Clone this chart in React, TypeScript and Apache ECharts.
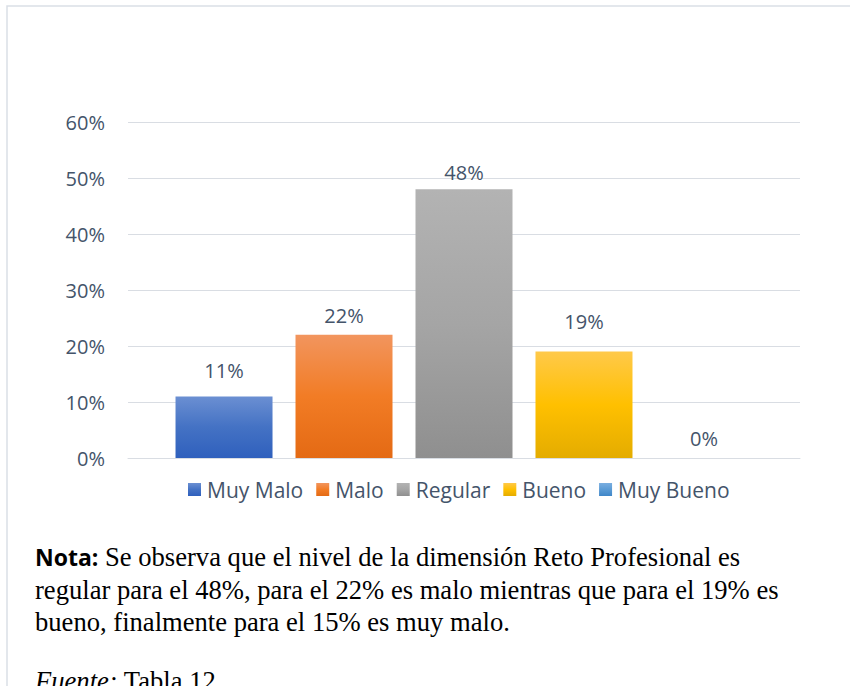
import React, { useEffect, useRef } from "react";
import * as echarts from "echarts";

const seriesNames = ["Muy Malo", "Malo", "Regular", "Bueno", "Muy Bueno"];
const seriesValues = [11, 22, 48, 19, 0];
const yTicks = { min: 0, max: 60, interval: 10 };
const noteLines = [
  "Se observa que el nivel de la dimensión Reto Profesional es",
  "regular para el 48%, para el 22% es malo mientras que para el 19% es",
  "bueno, finalmente para el 15% es muy malo.",
];
const noteTitle = "Nota:";
const sourceLabel = "Fuente:";
const sourceText = " Tabla 12";

const gradients = [
  ["#6B8FD2", "#4472C4", "#2F60BD"],
  ["#F2955E", "#F27C25", "#E46A14"],
  ["#B3B3B3", "#A5A5A5", "#8F8F8F"],
  ["#FFC94A", "#FFC000", "#E4AC00"],
  ["#7AAEE0", "#5B9BD5", "#3F86C8"],
];
const labelDistances = [16, 9, 7, 20, 10];

export default function App() {
  const ref = useRef<HTMLDivElement>(null);
  useEffect(() => {
    if (!ref.current) return;
    const chart = echarts.init(ref.current, null, { renderer: "svg" });
    const textColor = "#44546A";
    const font = "'Open Sans', sans-serif";
    const serif = "'Liberation Serif', 'Times New Roman', serif";
    chart.setOption({
      animation: false,
      backgroundColor: "#ffffff",
      grid: { left: 128, right: 50, top: 122, bottom: 228, containLabel: false },
      legend: {
        data: seriesNames,
        left: 188,
        top: 479,
        padding: 0,
        itemWidth: 13,
        itemHeight: 13,
        itemGap: 13,
        icon: "rect",
        textStyle: { color: textColor, fontSize: 21, fontFamily: font, padding: [0, 0, 0, 1] },
      },
      xAxis: {
        type: "category",
        data: [""],
        axisLine: { show: true, lineStyle: { color: "#D9DDE3", width: 1 } },
        axisTick: { show: false },
        axisLabel: { show: false },
      },
      yAxis: {
        type: "value",
        min: yTicks.min,
        max: yTicks.max,
        interval: yTicks.interval,
        axisLine: { show: false },
        axisTick: { show: false },
        splitLine: { lineStyle: { color: "#D9DDE3", width: 1 } },
        axisLabel: {
          formatter: "{value}%",
          color: textColor,
          fontSize: 20,
          fontFamily: font,
          margin: 23,
        },
      },
      series: seriesNames.map((name, i) => ({
        name,
        type: "bar",
        data: [seriesValues[i]],
        barWidth: 97,
        barGap: "23.7%",
        itemStyle: {
          color: new echarts.graphic.LinearGradient(0, 0, 0, 1, [
            { offset: 0, color: gradients[i][0] },
            { offset: 0.5, color: gradients[i][1] },
            { offset: 1, color: gradients[i][2] },
          ]),
        },
        label: {
          show: true,
          position: "top",
          distance: labelDistances[i],
          formatter: "{c}%",
          color: textColor,
          fontSize: 20,
          fontFamily: font,
        },
      })),
      graphic: [
        {
          type: "rect",
          shape: { x: 7, y: 6, width: 900, height: 800 },
          style: { fill: "none", stroke: "#DADFE6", lineWidth: 1.5 },
          silent: true,
          z: -1,
        },
        {
          type: "text",
          x: 35,
          y: 557,
          style: {
            text: noteTitle,
            font: "bold 23px 'Open Sans', sans-serif",
            fill: "#000000",
            verticalAlign: "middle",
          },
        },
        ...noteLines.map((line, i) => ({
          type: "text",
          x: i === 0 ? 105 : 35,
          y: 557 + i * 32.5,
          style: {
            text: line,
            font: "26.6px " + serif,
            fill: "#000000",
            verticalAlign: "middle",
          },
        })),
        {
          type: "text",
          x: 35,
          y: 681,
          style: {
            text: "{i|" + sourceLabel + "}{n|" + sourceText + "}",
            fill: "#000000",
            verticalAlign: "middle",
            rich: {
              i: { font: "italic 26.6px " + serif, fill: "#000000" },
              n: { font: "26.6px " + serif, fill: "#000000" },
            },
          },
        },
      ],
    });
    return () => chart.dispose();
  }, []);
  return (
    <div
      ref={ref}
      style={{ position: "absolute", left: 0, top: 0, width: 850, height: 686 }}
    />
  );
}
